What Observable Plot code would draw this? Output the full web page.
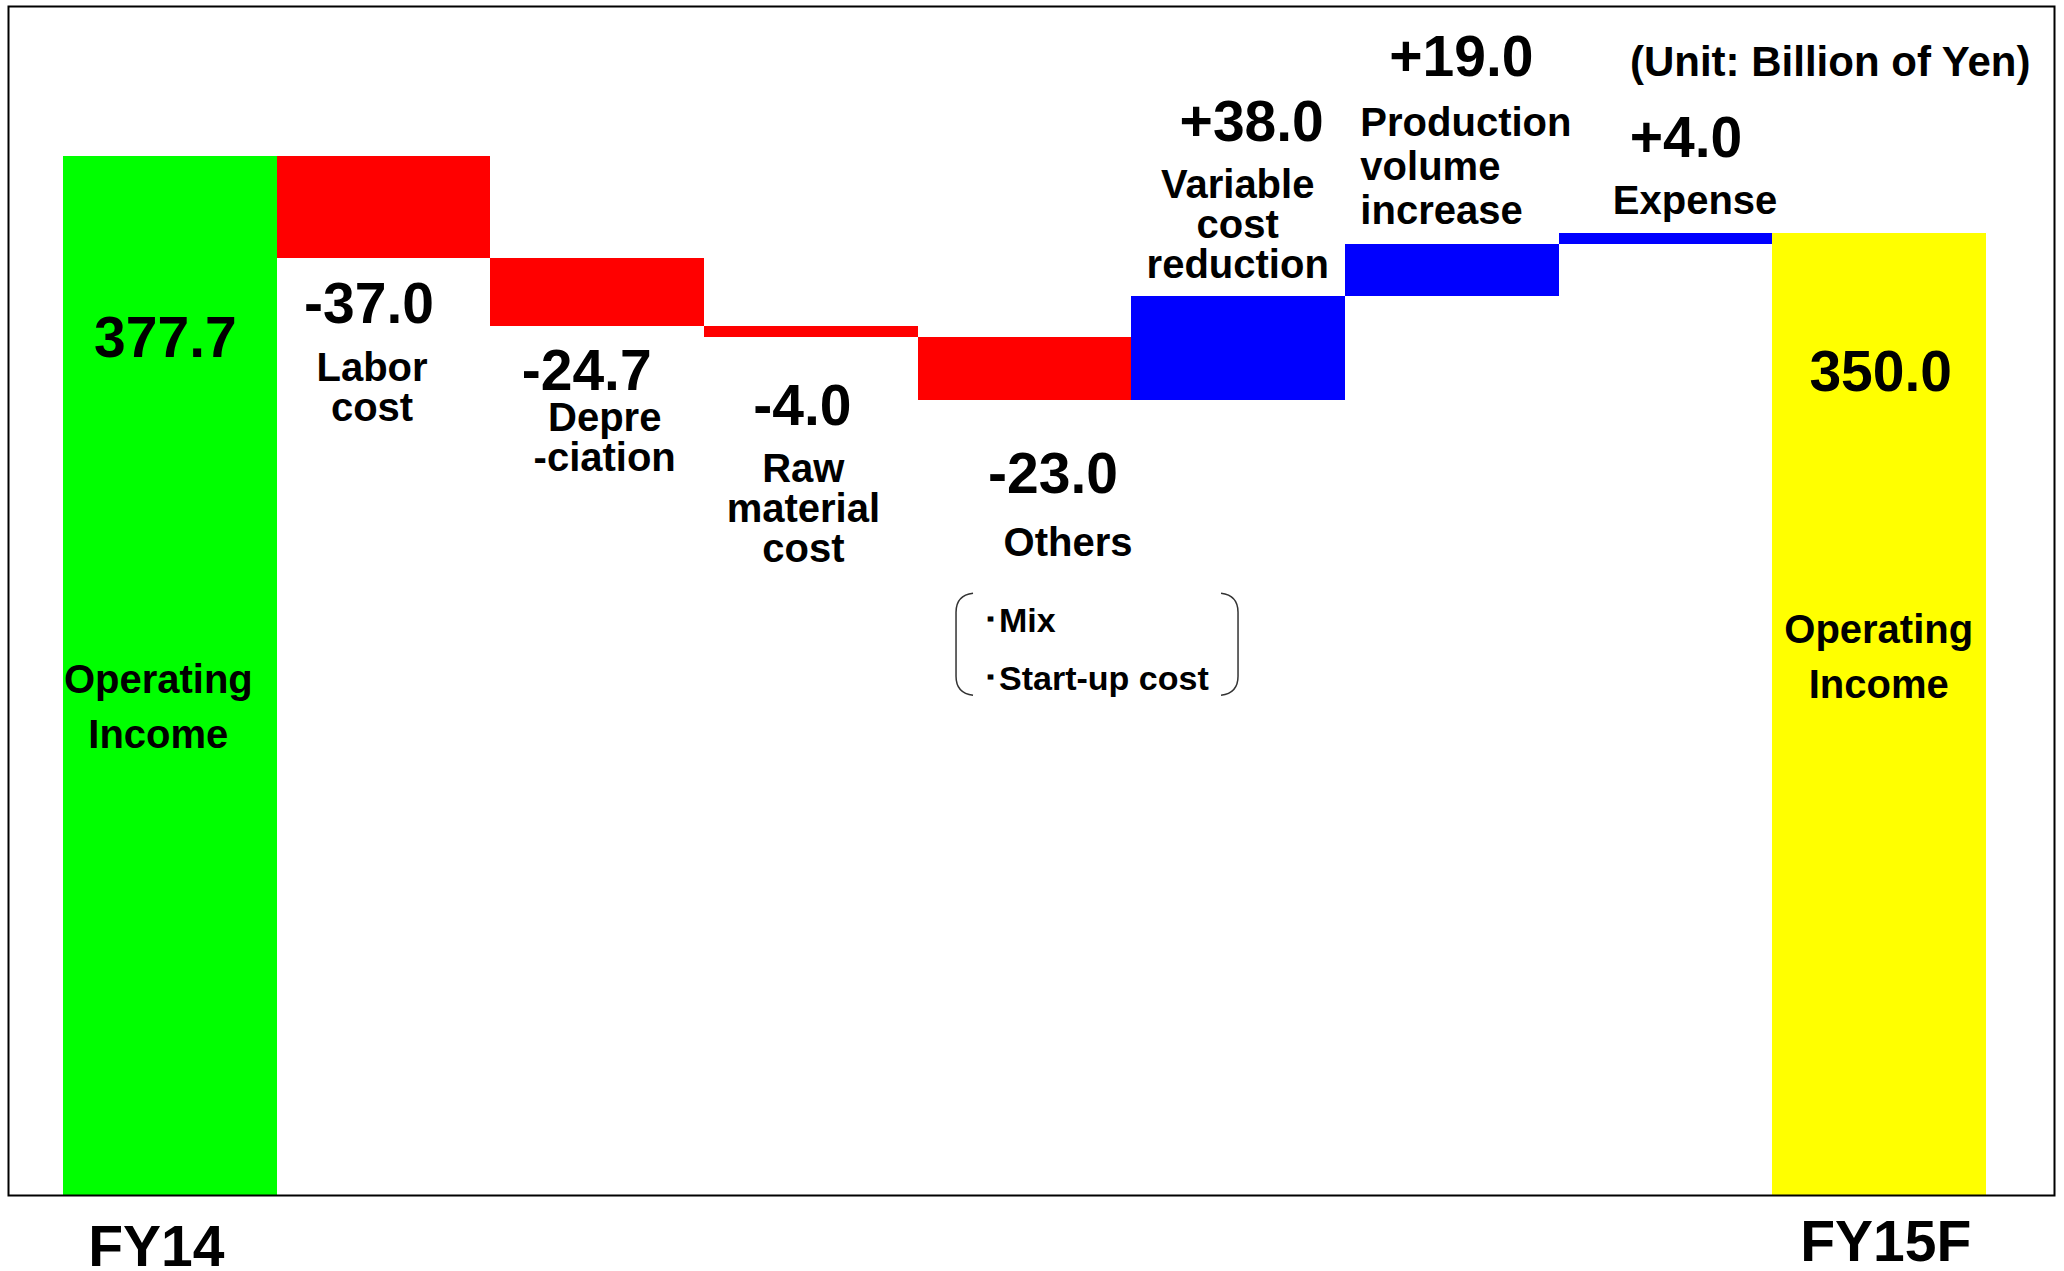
<!DOCTYPE html>
<html>
<head>
<meta charset="utf-8">
<script src="https://cdn.jsdelivr.net/npm/d3@7"></script>
<script src="https://cdn.jsdelivr.net/npm/@observablehq/plot@0.6"></script>
<style>
  html, body { margin: 0; padding: 0; background: #fff; overflow: hidden; }
  #chart svg { display: block; }
</style>
</head>
<body>
<div id="chart"></div>
<script>
// Operating income bridge from FY14 to the FY15 forecast (billion yen)
const categories = ["FY14", "Labor cost", "Depreciation", "Raw material cost", "Others",
  "Variable cost reduction", "Production volume increase", "Expense", "FY15F"];
const startTotal = 377.7;
const changes = [-37.0, -24.7, -4.0, -23.0, 38.0, 19.0, 4.0];
const endTotal = 350.0;
const nameLabels = ["Operating\nIncome", "Labor\ncost", "Depre\n-ciation", "Raw\nmaterial\ncost", "Others",
  "Variable\ncost\nreduction", "Production\nvolume\nincrease", "Expense", "Operating\nIncome"];
const periodLabels = ["FY14", "FY15F"];
const othersItems = ["･Mix", "･Start-up cost"];
const unitLabel = "(Unit: Billion of Yen)";

// Build floating segments: totals start at zero, changes start at the running level
const rows = [];
rows.push({i: 0, kind: "total", y1: 0, y2: startTotal, value: startTotal, name: nameLabels[0]});
let level = startTotal;
changes.forEach((c, k) => {
  rows.push({i: k + 1, kind: c < 0 ? "down" : "up", y1: level, y2: level + c, value: c, name: nameLabels[k + 1]});
  level = Math.round((level + c) * 10) / 10;
});
rows.push({i: 8, kind: "end", y1: 0, y2: endTotal, value: endTotal, name: nameLabels[8]});

const colors = {total: "#00ff00", down: "#ff0000", up: "#0000ff", end: "#ffff00"};
const fmt = d => (d.kind === "down" ? "-" : d.kind === "up" ? "+" : "") + Math.abs(d.value).toFixed(1);

// Plot scales the first line of multi-line text by lineHeight; this keeps the
// first line's cap top at the requested offset regardless of line spacing.
const firstLineShift = (lineHeight, fontSize) => -0.71 * (lineHeight - 1) * fontSize;

// Label placement, pixel offsets from each bar's outer end (center x, end y)
const valueOffsets = [[-5, 160], [-15, 24], [-11, 23], [-9, 47], [28, 52], [13, -196], [9, -209], [20, -117], [1, 117]];
const nameOffsets = [[-12, 508], [-12, 94], [7, 76], [-8, 116], [43, 127], [-1, -127], [-92, -136], [29, -47], [-1, 382]];
const nameLineHeights = [1.36, 1.0, 1.0, 1.0, 1.0, 1.0, 1.1, 1.0, 1.36];
const nameAnchors = ["middle", "middle", "middle", "middle", "middle", "middle", "start", "middle", "middle"];

const font = "bold";
const nameSize = 40;
const marks = [
  Plot.rect(rows, {x1: d => d.i, x2: d => d.i + 1, y1: "y1", y2: "y2", fill: d => colors[d.kind], shapeRendering: "crispEdges"}),
  Plot.frame({stroke: "#000", strokeWidth: 2})
];

rows.forEach((r, k) => {
  marks.push(Plot.text([r], {
    x: d => d.i + 0.5, y: "y2", text: fmt,
    dx: valueOffsets[k][0], dy: valueOffsets[k][1],
    lineAnchor: "top", fontSize: 57, fontWeight: font, fill: "#000"
  }));
  marks.push(Plot.text([r], {
    x: d => d.i + 0.5, y: "y2", text: "name",
    dx: nameOffsets[k][0], dy: nameOffsets[k][1] + firstLineShift(nameLineHeights[k], nameSize),
    textAnchor: nameAnchors[k], lineAnchor: "top", lineHeight: nameLineHeights[k],
    fontSize: nameSize, fontWeight: font, fill: "#000"
  }));
});

// Breakdown of "Others" inside a rounded bracket
const othersRow = rows[4];
const itemSize = 34, itemLineHeight = 1.72;
marks.push(Plot.text([othersItems.join("\n")], {
  x: () => othersRow.i + 0.5, y: () => othersRow.y2, text: d => d,
  dx: -43, dy: 207 + firstLineShift(itemLineHeight, itemSize), textAnchor: "start", lineAnchor: "top",
  lineHeight: itemLineHeight, fontSize: itemSize, fontWeight: font, fill: "#000"
}));
marks.push((index, scales) => {
  const cx = scales.x(othersRow.i + 0.5), by = scales.y(othersRow.y2);
  const L = cx - 68.5, R = cx + 213.5, T = by + 193, B = by + 295, r = 17;
  const g = d3.create("svg:g").attr("fill", "none").attr("stroke", "#333").attr("stroke-width", 1.5);
  g.append("path").attr("d", `M${L + r},${T} Q${L},${T + 2} ${L},${T + r + 2} V${B - r - 2} Q${L},${B - 2} ${L + r},${B}`);
  g.append("path").attr("d", `M${R - r},${T} Q${R},${T + 2} ${R},${T + r + 2} V${B - r - 2} Q${R},${B - 2} ${R - r},${B}`);
  return g.node();
});

// Period labels under the total bars
const periodOffsets = [[-14, 30], [6, 25]];
[rows[0], rows[8]].forEach((r, k) => {
  marks.push(Plot.text([r], {
    x: d => d.i + 0.5, y: () => 0, text: () => periodLabels[k],
    dx: periodOffsets[k][0], dy: periodOffsets[k][1],
    lineAnchor: "top", fontSize: 57, fontWeight: font, fill: "#000"
  }));
});

// Unit note in the top-right corner
marks.push(Plot.text([unitLabel], {
  frameAnchor: "top-right", text: d => d, textAnchor: "end", lineAnchor: "top",
  dx: -24, dy: 40, fontSize: 42, fontWeight: font, fill: "#000"
}));

const chart = Plot.plot({
  width: 2064,
  height: 1271,
  marginLeft: 8,
  marginRight: 10,
  marginTop: 6,
  marginBottom: 76,
  x: {domain: [-0.2574, 9.318], axis: null},
  y: {domain: [0, 432.4], axis: null},
  color: {type: "identity"},
  style: {fontFamily: "'Liberation Sans', Arial, Helvetica, sans-serif", background: "#fff", overflow: "visible"},
  marks
});
document.getElementById("chart").appendChild(chart);
</script>
</body>
</html>
